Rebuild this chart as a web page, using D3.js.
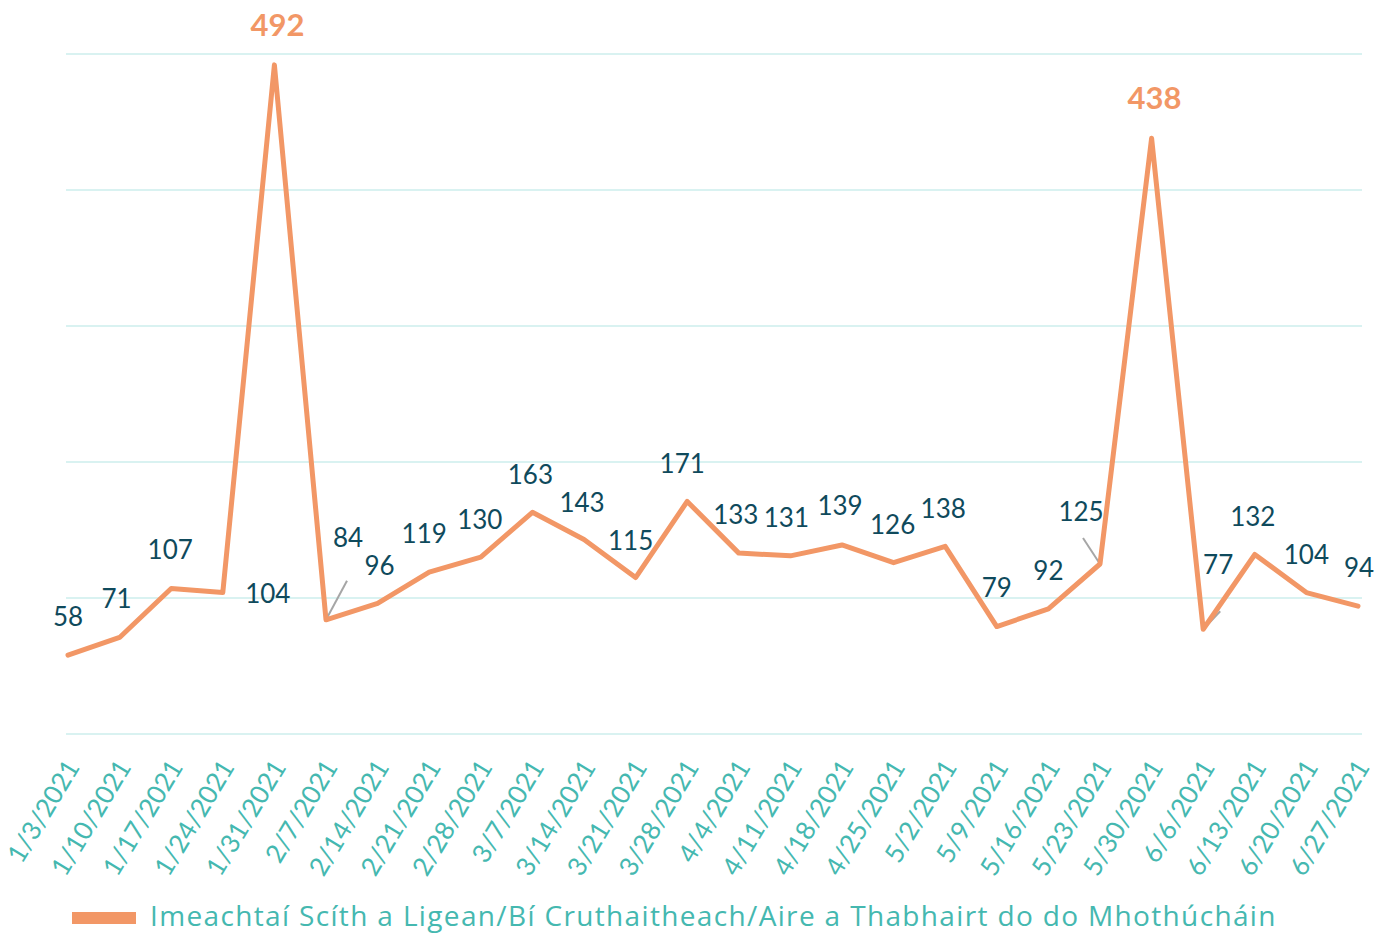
<!DOCTYPE html>
<html>
<head>
<meta charset="utf-8">
<script src="https://cdn.jsdelivr.net/npm/d3@7"></script>
<style>
  html, body { margin: 0; padding: 0; background: #fff; }
  svg { display: block; }
</style>
</head>
<body>
<svg id="chart" width="1388" height="935"></svg>
<script>
// ---- data ----
const dates = ["1/3/2021","1/10/2021","1/17/2021","1/24/2021","1/31/2021","2/7/2021","2/14/2021","2/21/2021","2/28/2021","3/7/2021","3/14/2021","3/21/2021","3/28/2021","4/4/2021","4/11/2021","4/18/2021","4/25/2021","5/2/2021","5/9/2021","5/16/2021","5/23/2021","5/30/2021","6/6/2021","6/13/2021","6/20/2021","6/27/2021"];
const values = [58,71,107,104,492,84,96,119,130,163,143,115,171,133,131,139,126,138,79,92,125,438,77,132,104,94];
const seriesName = "Imeachtaí Scíth a Ligean/Bí Cruthaitheach/Aire a Thabhairt do do Mhothúcháin";
const yTicks = [0,100,200,300,400,500];
const highlighted = [4, 21]; // indices of peak labels

// ---- layout (label nudges, px) ----
const labelOffsets = [
  [0,-39],[-3,-39],[-1,-39],[45,0],[3,-41],[22,-83],[2,-38],[-5,-39],[-1,-38],[-2,-38],
  [-2,-38],[-5,-38],[-5,-38],[-3,-39],[-4,-39],[-2,-40],[-1,-39],[-2,-38],[0,-40],[0,-39],
  [-19,-53],[3,-41],[15,-65],[-2,-38],[0,-39],[1,-39]
];
const leaders = { 5: [21,-39], 20: [-17,-26], 22: [17,-18] };

const svg = d3.select("#chart");
const x = d3.scalePoint().domain(dates).range([68, 1358]);
const y = d3.scaleLinear().domain([0, 500]).range([734, 54]);

// gridlines
svg.append("g").selectAll("line").data(yTicks).join("line")
  .attr("x1", 66).attr("x2", 1362)
  .attr("y1", d => y(d)).attr("y2", d => y(d))
  .attr("stroke", "#cdeeed").attr("stroke-width", 1.5);

// x axis labels
const xAxis = d3.axisBottom(x).tickSize(0).tickPadding(0);
const gx = svg.append("g").attr("transform", "translate(0,734)").call(xAxis);
gx.select(".domain").remove();
gx.selectAll("text")
  .attr("font-family", "Lato, sans-serif")
  .attr("font-size", 26)
  .attr("fill", "#45b8b0")
  .attr("text-anchor", "end")
  .attr("dy", "0")
  .attr("transform", "translate(12,33) rotate(-59)");

// leader lines
svg.append("g").selectAll("line").data(Object.keys(leaders).map(Number)).join("line")
  .attr("x1", i => x(dates[i])).attr("y1", i => y(values[i]))
  .attr("x2", i => x(dates[i]) + leaders[i][0]).attr("y2", i => y(values[i]) + leaders[i][1])
  .attr("stroke", "#a6a6a6").attr("stroke-width", 2);

// line
const line = d3.line().x((d, i) => x(dates[i])).y(d => y(d));
svg.append("path").datum(values)
  .attr("d", line)
  .attr("fill", "none")
  .attr("stroke", "#f29766")
  .attr("stroke-width", 5)
  .attr("stroke-linejoin", "round")
  .attr("stroke-linecap", "round");

// data labels
svg.append("g").selectAll("text").data(values).join("text")
  .attr("x", (d, i) => x(dates[i]) + labelOffsets[i][0])
  .attr("y", (d, i) => y(d) + labelOffsets[i][1])
  .attr("text-anchor", "middle")
  .attr("dominant-baseline", "central")
  .attr("font-family", "Lato, sans-serif")
  .attr("font-size", (d, i) => highlighted.includes(i) ? 31 : 26)
  .attr("font-weight", (d, i) => highlighted.includes(i) ? 700 : 400)
  .attr("fill", (d, i) => highlighted.includes(i) ? "#f29766" : "#0f4a5c")
  .text(d => d);

// legend
const lg = svg.append("g");
lg.append("rect").attr("x", 72).attr("y", 912).attr("width", 64).attr("height", 12).attr("fill", "#f29766");
lg.append("text").attr("x", 150).attr("y", 926)
  .attr("font-family", "'Open Sans', sans-serif")
  .attr("font-size", 28)
  .attr("letter-spacing", "1.35px")
  .attr("fill", "#45b8b0")
  .text(seriesName);
</script>
</body>
</html>
